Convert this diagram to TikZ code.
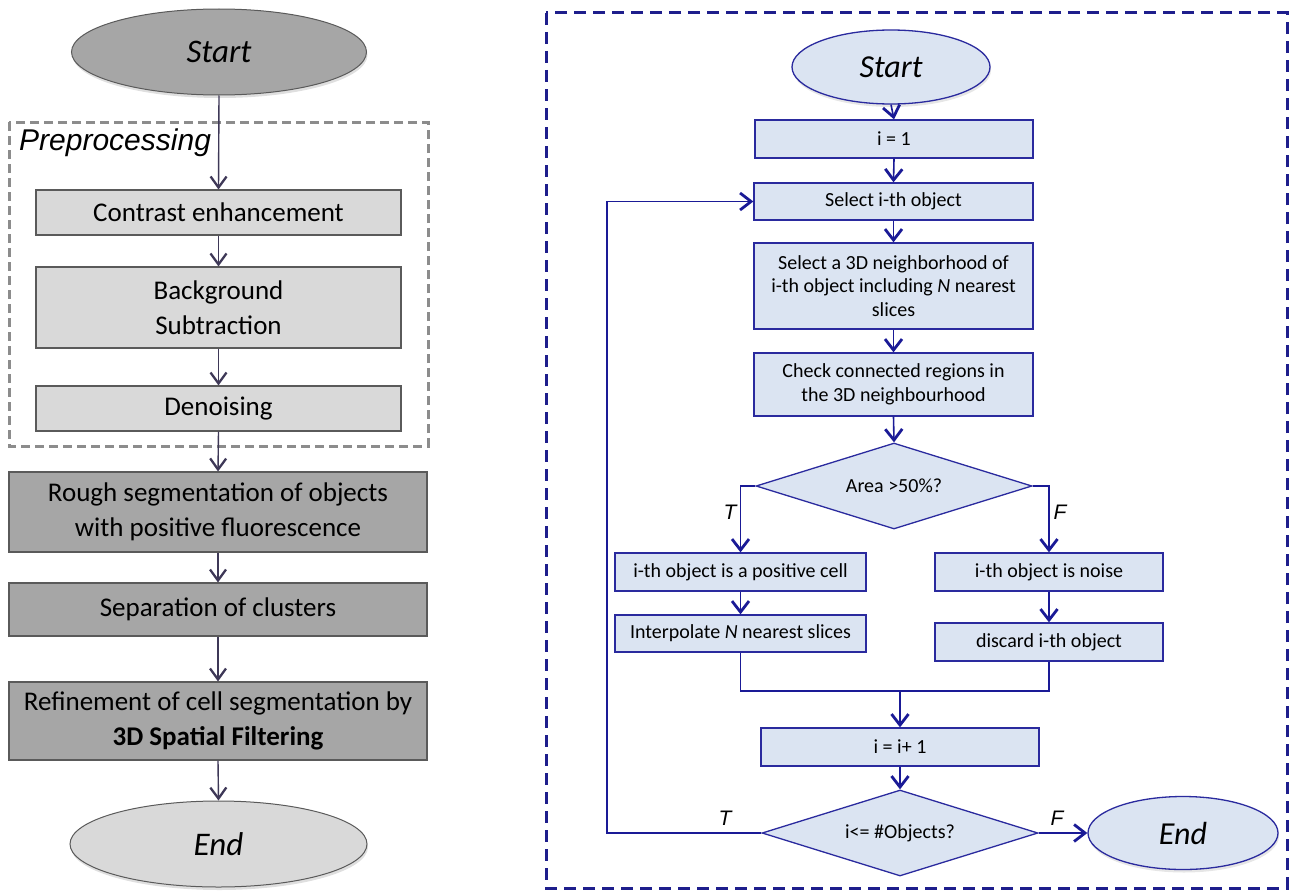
\documentclass[tikz,border=0pt]{standalone}
\usepackage{fontspec}
\setmainfont{Carlito}
\newfontfamily\arialfont{Liberation Sans}
\usetikzlibrary{arrows.meta,shapes.geometric,shadows}
\definecolor{lgfill}{HTML}{D9D9D9}
\definecolor{dgfill}{HTML}{A6A6A6}
\definecolor{gborder}{HTML}{5A5A5A}
\definecolor{garrow}{HTML}{3E3857}
\definecolor{gdash}{HTML}{8C8C8C}
\definecolor{bfill}{HTML}{DBE4F2}
\definecolor{bborder}{HTML}{2A2A9E}
\definecolor{barrow}{HTML}{1A1A96}
\definecolor{bdash}{HTML}{1E1E8C}
\tikzset{
  lfont/.style={font=\fontsize{27}{35}\selectfont},
  rfont/.style={font=\fontsize{20}{23.5}\selectfont},
  lboxlight/.style={draw=gborder, fill=lgfill, line width=1.1pt, rectangle, align=center, inner sep=0pt, lfont},
  lboxdark/.style={draw=gborder, fill=dgfill, line width=1.1pt, rectangle, align=center, inner sep=0pt, lfont},
  lterm/.style={draw=gborder, ellipse, line width=1pt, inner sep=0pt, font=\fontsize{33}{38}\selectfont\itshape,
     drop shadow={opacity=0.25, shadow xshift=1pt, shadow yshift=-3pt}},
  larrow/.style={draw=garrow, line width=1.4pt, -{Straight Barb[length=11pt,width=16pt,line width=2.3pt]}},
  rbox/.style={draw=bborder, fill=bfill, line width=1.3pt, rectangle, align=center, inner sep=0pt, rfont},
  rdec/.style={draw=bborder, fill=bfill, line width=1.3pt, diamond, aspect=3.2, inner sep=0pt, rfont},
  rterm/.style={draw=bborder, fill=bfill, ellipse, line width=1.3pt, inner sep=0pt, font=\fontsize{32}{36}\selectfont\itshape,
     drop shadow={opacity=0.2, shadow xshift=1pt, shadow yshift=-3pt}},
  rline/.style={draw=barrow, line width=1.6pt},
  rarrow/.style={rline, -{Straight Barb[length=11pt,width=17pt,line width=2.8pt]}},
  tflabel/.style={font=\arialfont\itshape\fontsize{21}{24}\selectfont, inner sep=0pt},
}
\begin{document}
\begin{tikzpicture}[x=1pt,y=-1pt]
\useasboundingbox (0,0) rectangle (1290,891);
% ---------------- left panel ----------------
\draw[gdash, line width=3pt, dash pattern=on 9pt off 5pt] (9,122) rectangle (428,446);
\node[anchor=base west, inner sep=0pt, font=\arialfont\itshape\fontsize{30}{34}\selectfont] (prelab) at (19,150) {Preprocessing};
\node[lterm, fill=dgfill, minimum width=295pt, minimum height=86pt] (startL) at (219,52) {Start};
\node[lboxlight, minimum width=365pt, minimum height=45pt] (contrast) at (218.5,212.5) {Contrast enhancement};
\node[lboxlight, minimum width=365pt, minimum height=81pt] (bgsub) at (218.5,307.5) {Background\\Subtraction};
\node[lboxlight, minimum width=365pt, minimum height=45pt] (denoise) at (218.5,408.5) {Denoising};
\node[lboxdark, minimum width=418pt, minimum height=80pt] (rough) at (218,512) {Rough segmentation of objects\\with positive fluorescence};
\node[lboxdark, minimum width=418pt, minimum height=53pt] (sep) at (218,609.5) {Separation of clusters};
\node[lboxdark, minimum width=418pt, minimum height=78pt] (refine) at (218,721) {Refinement of cell segmentation by\\\textbf{3D Spatial Filtering}};
\node[lterm, fill=lgfill, minimum width=297pt, minimum height=86pt] (endL) at (218.5,844) {End};
\draw[larrow] (startL.south) -- (contrast.north);
\draw[larrow] (contrast.south) -- (bgsub.north);
\draw[larrow] (bgsub.south) -- (denoise.north);
\draw[larrow] (denoise.south) -- (rough.north);
\draw[larrow] (rough.south) -- (sep.north);
\draw[larrow] (sep.south) -- (refine.north);
\draw[larrow] (refine.south) -- (endL.north);
% ---------------- right panel ----------------
\draw[bdash, line width=3pt, dash pattern=on 12pt off 7pt] (546,13) rectangle (1287,888);
\node[rterm, minimum width=198pt, minimum height=74pt] (startR) at (891,67) {Start};
\node[rbox, minimum width=278pt, minimum height=38pt] (i1) at (894,139) {i = 1};
\node[rbox, minimum width=279pt, minimum height=37pt] (sel) at (893.5,201.5) {Select i-th object};
\node[rbox, minimum width=279pt, minimum height=86pt] (nbhd) at (893.5,286) {Select a 3D neighborhood of\\i-th object including \textit{N} nearest\\slices};
\node[rbox, minimum width=279pt, minimum height=63pt] (check) at (893.5,384.5) {Check connected regions in\\the 3D neighbourhood};
\node[rdec, minimum width=276pt, minimum height=86pt] (d1) at (894,486) {Area >50\%?};
\node[rbox, minimum width=251pt, minimum height=38pt] (pos) at (740.5,572) {i-th object is a positive cell};
\node[rbox, minimum width=251pt, minimum height=37pt] (interp) at (740.5,633.5) {Interpolate \textit{N} nearest slices};
\node[rbox, minimum width=228pt, minimum height=38pt] (noise) at (1049,572) {i-th object is noise};
\node[rbox, minimum width=228pt, minimum height=38pt] (discard) at (1049,642) {discard i-th object};
\node[rbox, minimum width=278pt, minimum height=38pt] (inc) at (900,747) {i = i+ 1};
\node[rdec, minimum width=276pt, minimum height=86pt] (d2) at (900,833) {i<= \#Objects?};
\node[rterm, minimum width=190pt, minimum height=73pt] (endR) at (1183,833) {End};
\coordinate (mj) at (900,691);
\coordinate (lp) at (607,833);
\draw[rarrow] (startR.south) -- (i1.north);
\draw[rarrow] (i1.south) -- (sel.north);
\draw[rarrow] (sel.south) -- (nbhd.north);
\draw[rarrow] (nbhd.south) -- (check.north);
\draw[rarrow] (check.south) -- (d1.north);
\draw[rarrow] (d1.west) -| (pos.north);
\draw[rarrow] (d1.east) -| (noise.north);
\draw[rarrow] (pos.south) -- (interp.north);
\draw[rarrow] (noise.south) -- (discard.north);
\draw[rline] (interp.south) |- (mj) -| (discard.south);
\draw[rarrow] (mj) -- (inc.north);
\draw[rarrow] (inc.south) -- (d2.north);
\draw[rarrow] (d2.west) -- (lp) |- (sel.west);
\draw[rarrow] (d2.east) -- (endR.west);
\node[tflabel] (t1) at (730,512) {T};
\node[tflabel] (f1) at (1060,512) {F};
\node[tflabel] (t2) at (725,818) {T};
\node[tflabel] (f2) at (1057,818) {F};
\end{tikzpicture}
\end{document}
